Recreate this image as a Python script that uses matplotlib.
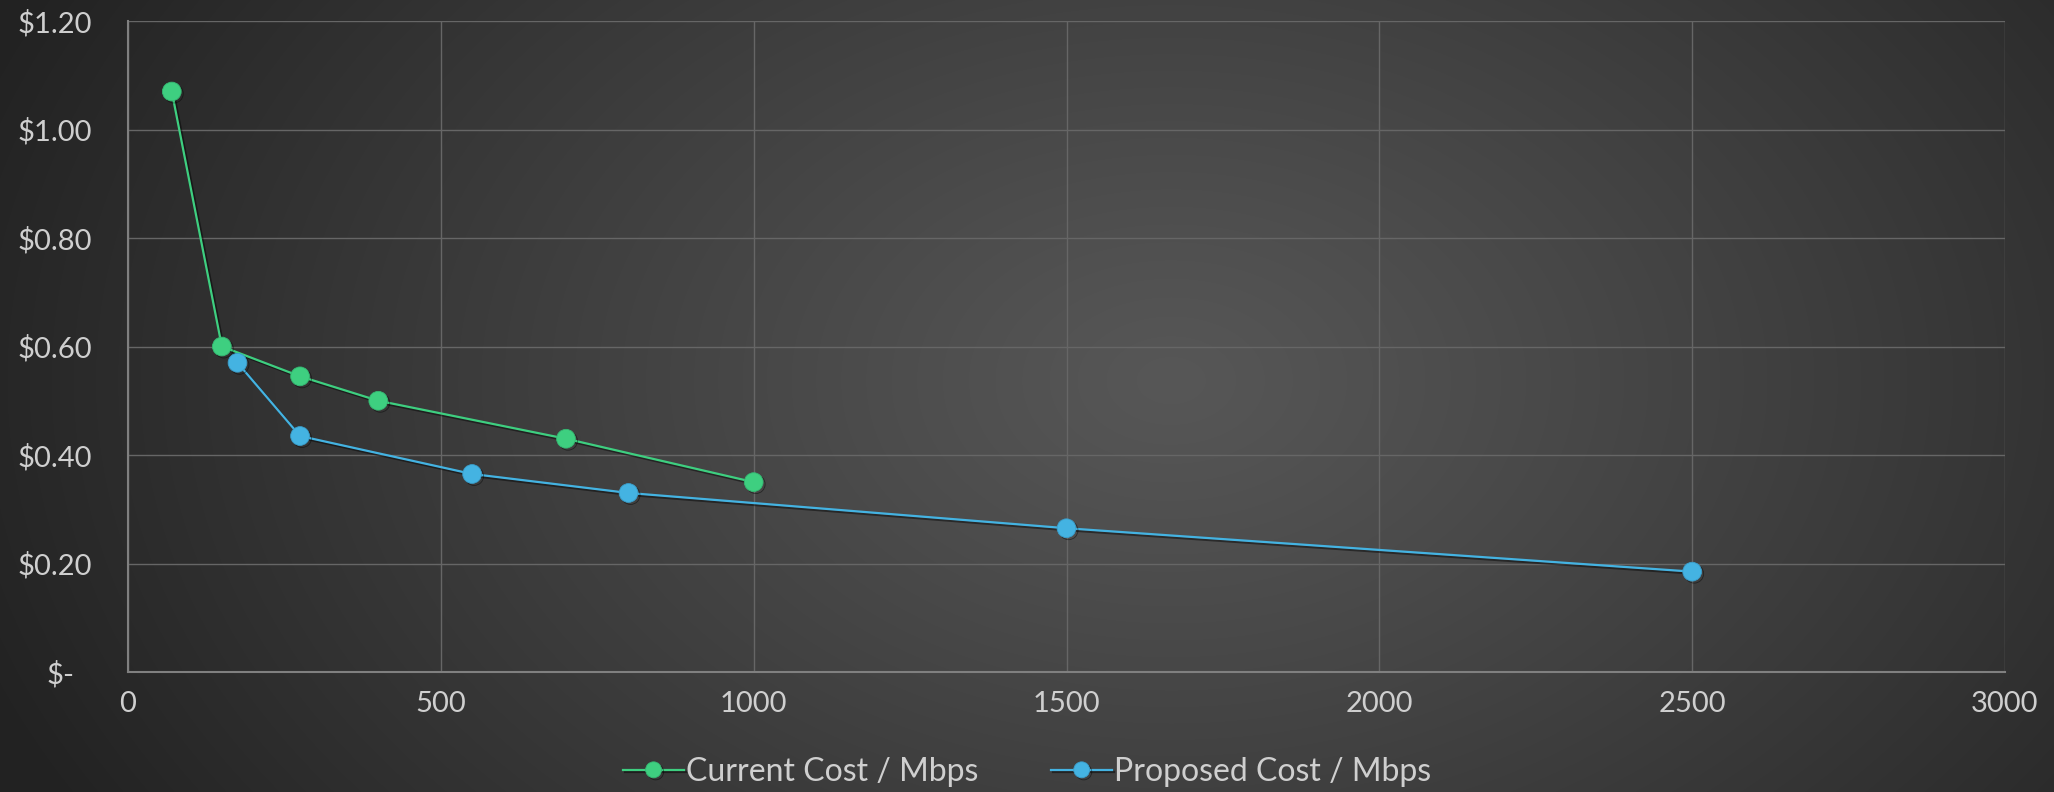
import numpy as np
import matplotlib
matplotlib.use("Agg")
import matplotlib.pyplot as plt
import matplotlib.patheffects as pe
import matplotlib.transforms as mtransforms
from matplotlib.ticker import FuncFormatter

# Bandwidth (Mbps) vs. monthly cost per Mbps
current_mbps = [70, 150, 275, 400, 700, 1000]
current_cost = [1.07, 0.60, 0.545, 0.50, 0.43, 0.35]

proposed_mbps = [175, 275, 550, 800, 1500, 2500]
proposed_cost = [0.57, 0.435, 0.365, 0.33, 0.265, 0.185]

series_labels = ["Current Cost / Mbps", "Proposed Cost / Mbps"]
x_ticks = [0, 500, 1000, 1500, 2000, 2500, 3000]
y_ticks = [0.0, 0.2, 0.4, 0.6, 0.8, 1.0, 1.2]

GREEN = "#3ecf80"
BLUE = "#44b3e2"
TEXT = "#cfcfcf"

plt.rcParams["font.family"] = ["Lato", "DejaVu Sans"]

W, H = 2054, 792
fig = plt.figure(figsize=(W / 100, H / 100), dpi=100)

# radial background gradient
yy, xx = np.mgrid[0:H, 0:W]
cx, cy = W * 0.57, H * 0.48
r = np.sqrt(((xx - cx) / (W * 0.62)) ** 2 + ((yy - cy) / (H * 1.1)) ** 2)
r = np.clip(r, 0, 1) ** 1.1
inner = np.array([0x57, 0x57, 0x57]) / 255
outer = np.array([0x22, 0x22, 0x22]) / 255
img = inner[None, None, :] * (1 - r[..., None]) + outer[None, None, :] * r[..., None]
bg = fig.add_axes([0, 0, 1, 1], zorder=-10)
bg.imshow(img, aspect="auto", extent=[0, 1, 0, 1])
bg.axis("off")

ax = fig.add_axes([128 / W, 1 - 672 / H, (2005 - 128) / W, (672 - 21) / H])
ax.patch.set_alpha(0)

shadow = [pe.SimpleLineShadow(offset=(1.5, -1.5), shadow_color="black", alpha=0.45), pe.Normal()]

ax.plot(current_mbps, current_cost, color=GREEN, lw=1.6, marker="o", ms=13.5,
        markerfacecolor=GREEN, markeredgecolor="#35b872", markeredgewidth=0.6,
        label=series_labels[0], zorder=3, path_effects=shadow)
ax.plot(proposed_mbps, proposed_cost, color=BLUE, lw=1.6, marker="o", ms=13.5,
        markerfacecolor=BLUE, markeredgecolor="#3a9ecb", markeredgewidth=0.6,
        label=series_labels[1], zorder=3, path_effects=shadow)

ax.set_xlim(0, 3000)
ax.set_ylim(0, 1.2)
ax.set_xticks(x_ticks)
ax.set_yticks(y_ticks)
ax.yaxis.set_major_formatter(FuncFormatter(lambda v, _: "$-" if v == 0 else f"${v:.2f}"))
ax.grid(True, color="#666666", lw=1.0, zorder=0)
ax.tick_params(colors=TEXT, labelsize=21, length=0, pad=14)
ax.tick_params(axis="y", pad=26)
fig.canvas.draw()
# the zero label sits a little further left, like accounting format padding
zero_lab = ax.get_yticklabels()[0]
zero_lab.set_transform(zero_lab.get_transform()
                       + mtransforms.ScaledTranslation(-17 / 100, 0, fig.dpi_scale_trans))
for s in ["top", "right"]:
    ax.spines[s].set_visible(False)
for s in ["left", "bottom"]:
    ax.spines[s].set_color("#808080")
    ax.spines[s].set_linewidth(1.5)

leg = fig.legend(loc="center", bbox_to_anchor=(0.5, 1 - 772 / H), ncol=2, frameon=False,
                 fontsize=23, labelcolor=TEXT, handlelength=1.9, handletextpad=0.05,
                 columnspacing=2.3, markerscale=0.85)

fig.savefig("out.png", dpi=100)
